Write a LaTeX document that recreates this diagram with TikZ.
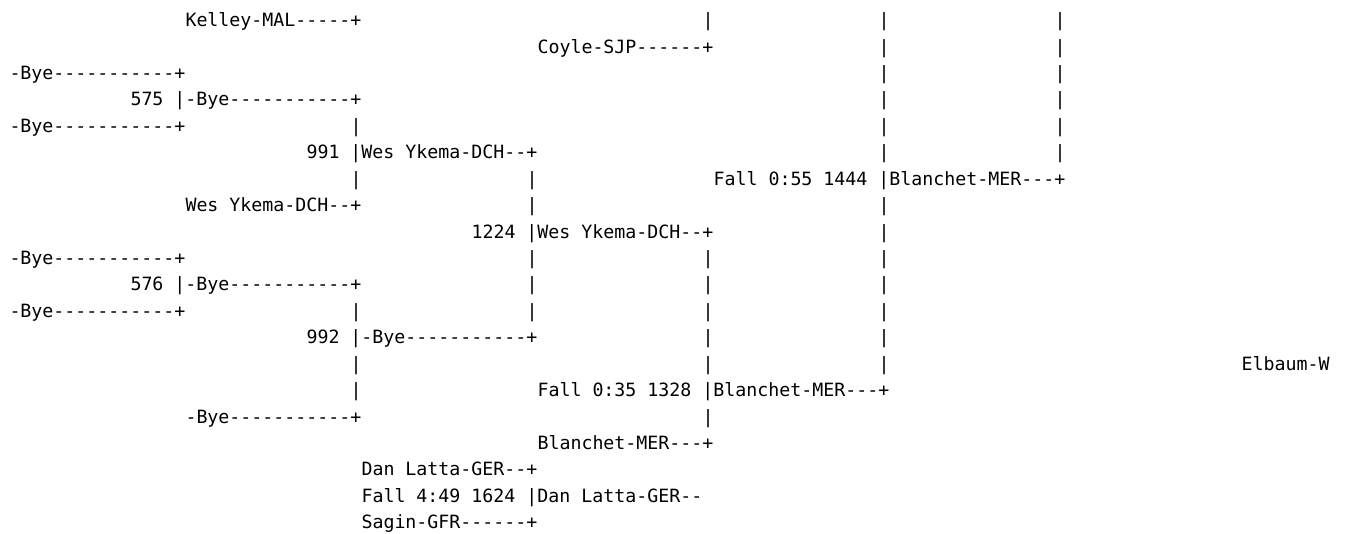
\documentclass[tikz,border=0pt]{standalone}
\usepackage{fontspec}
\newfontfamily\bracketmono{DejaVu Sans Mono}
\tikzset{
  txt/.style={anchor=base west, inner sep=0pt, outer sep=0pt,
    font=\bracketmono\fontsize{18.27pt}{26.42pt}\selectfont, text=black}
}
\newcommand{\gp}[2]{({9.5pt+11pt*#1},{-26.7pt-26.42pt*(#2-1)})}
\begin{document}
\begin{tikzpicture}
\fill[white] (0,0) rectangle (1346pt,-533pt);
\useasboundingbox (0,0) rectangle (1346pt,-533pt);
% row 1
\node[txt] (r1a) at \gp{16}{1} {Kelley-MAL-----+};
\node[txt] (r1b) at \gp{63}{1} {|};
\node[txt] (r1c) at \gp{79}{1} {|};
\node[txt] (r1d) at \gp{95}{1} {|};
% row 2
\node[txt] (r2a) at \gp{48}{2} {Coyle-SJP------+};
\node[txt] (r2b) at \gp{79}{2} {|};
\node[txt] (r2c) at \gp{95}{2} {|};
% row 3
\node[txt] (r3a) at \gp{0}{3} {-Bye-----------+};
\node[txt] (r3b) at \gp{79}{3} {|};
\node[txt] (r3c) at \gp{95}{3} {|};
% row 4
\node[txt] (r4a) at \gp{11}{4} {575 |-Bye-----------+};
\node[txt] (r4b) at \gp{79}{4} {|};
\node[txt] (r4c) at \gp{95}{4} {|};
% row 5
\node[txt] (r5a) at \gp{0}{5} {-Bye-----------+};
\node[txt] (r5b) at \gp{31}{5} {|};
\node[txt] (r5c) at \gp{79}{5} {|};
\node[txt] (r5d) at \gp{95}{5} {|};
% row 6
\node[txt] (r6a) at \gp{27}{6} {991 |Wes Ykema-DCH--+};
\node[txt] (r6b) at \gp{79}{6} {|};
\node[txt] (r6c) at \gp{95}{6} {|};
% row 7
\node[txt] (r7a) at \gp{31}{7} {|};
\node[txt] (r7b) at \gp{47}{7} {|};
\node[txt] (r7c) at \gp{64}{7} {Fall 0:55 1444 |Blanchet-MER---+};
% row 8
\node[txt] (r8a) at \gp{16}{8} {Wes Ykema-DCH--+};
\node[txt] (r8b) at \gp{47}{8} {|};
\node[txt] (r8c) at \gp{79}{8} {|};
% row 9
\node[txt] (r9a) at \gp{42}{9} {1224 |Wes Ykema-DCH--+};
\node[txt] (r9b) at \gp{79}{9} {|};
% row 10
\node[txt] (r10a) at \gp{0}{10} {-Bye-----------+};
\node[txt] (r10b) at \gp{47}{10} {|};
\node[txt] (r10c) at \gp{63}{10} {|};
\node[txt] (r10d) at \gp{79}{10} {|};
% row 11
\node[txt] (r11a) at \gp{11}{11} {576 |-Bye-----------+};
\node[txt] (r11b) at \gp{47}{11} {|};
\node[txt] (r11c) at \gp{63}{11} {|};
\node[txt] (r11d) at \gp{79}{11} {|};
% row 12
\node[txt] (r12a) at \gp{0}{12} {-Bye-----------+};
\node[txt] (r12b) at \gp{31}{12} {|};
\node[txt] (r12c) at \gp{47}{12} {|};
\node[txt] (r12d) at \gp{63}{12} {|};
\node[txt] (r12e) at \gp{79}{12} {|};
% row 13
\node[txt] (r13a) at \gp{27}{13} {992 |-Bye-----------+};
\node[txt] (r13b) at \gp{63}{13} {|};
\node[txt] (r13c) at \gp{79}{13} {|};
% row 14
\node[txt] (r14a) at \gp{31}{14} {|};
\node[txt] (r14b) at \gp{63}{14} {|};
\node[txt] (r14c) at \gp{79}{14} {|};
\node[txt] (r14d) at \gp{112}{14} {Elbaum-W};
% row 15
\node[txt] (r15a) at \gp{31}{15} {|};
\node[txt] (r15b) at \gp{48}{15} {Fall 0:35 1328 |Blanchet-MER---+};
% row 16
\node[txt] (r16a) at \gp{16}{16} {-Bye-----------+};
\node[txt] (r16b) at \gp{63}{16} {|};
% row 17
\node[txt] (r17a) at \gp{48}{17} {Blanchet-MER---+};
% row 18
\node[txt] (r18a) at \gp{32}{18} {Dan Latta-GER--+};
% row 19
\node[txt] (r19a) at \gp{32}{19} {Fall 4:49 1624 |Dan Latta-GER--};
% row 20
\node[txt] (r20a) at \gp{32}{20} {Sagin-GFR------+};
\end{tikzpicture}
\end{document}
